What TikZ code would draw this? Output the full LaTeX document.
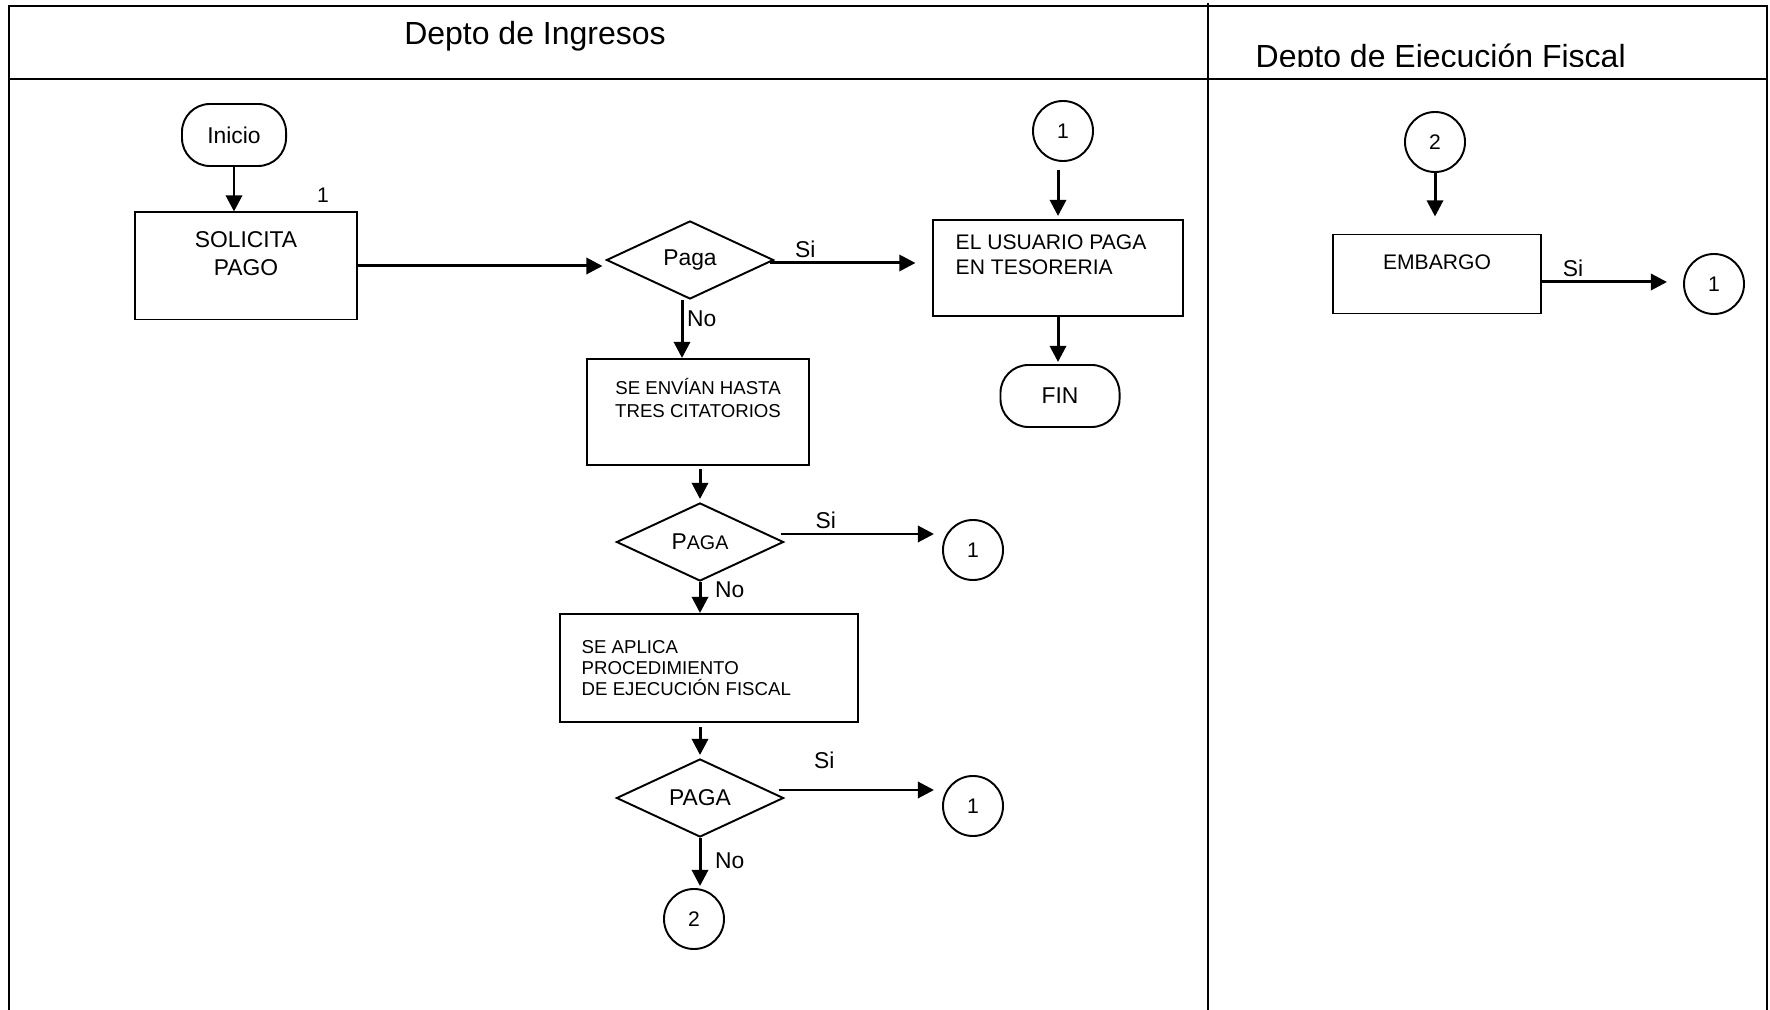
\documentclass[tikz,border=0pt]{standalone}
\usepackage{fontspec}
\setmainfont{Liberation Sans}
\usetikzlibrary{shapes.geometric,arrows.meta,calc}

\begin{document}
\begin{tikzpicture}[x=0.01cm,y=-0.01cm,
    lane/.style={line width=0.6pt},
    proc/.style={draw,line width=0.55pt,inner sep=0pt},
    txt/.style={inner sep=0pt},
    term/.style={draw,line width=0.55pt,rounded corners=0.28cm,minimum height=0.62cm,font=\fontsize{6.5}{7.5}\selectfont},
    decision/.style={draw,diamond,aspect=2,inner sep=0pt,line width=0.55pt,minimum width=1.67cm,minimum height=0.78cm,font=\fontsize{6.5}{7.5}\selectfont},
    conn/.style={draw,circle,line width=0.55pt,minimum size=0.6cm,inner sep=0pt,font=\fontsize{6}{7}\selectfont},
    flow/.style={-{Triangle[length=4.6pt,width=4.6pt]},line width=0.85pt},
    tag/.style={font=\fontsize{6.5}{7.5}\selectfont,inner sep=1pt}]
   \useasboundingbox (0,0) rectangle (1770,1010);

   % carriles
   \draw[lane] (9,1010) -- (9,6) -- (1767,6) -- (1767,1010);
   \draw[lane] (9,79) -- (1767,79);
   \draw[lane] (1208,3) -- (1208,1010);
   \node[font=\fontsize{9.1}{11}\selectfont,anchor=base] (ingresos) at (535,45) {Depto de Ingresos};
   \begin{scope}
     \clip (1210,8) rectangle (1765,66.5);
     \node[txt,font=\fontsize{9.1}{11}\selectfont,anchor=base west] (ejecucion) at (1255,68) {Depto de Ejecución Fiscal};
   \end{scope}

   % Depto de Ingresos
   \node[term,minimum width=1.04cm] (inicio) at (234,135) {Inicio};
   \node[proc,minimum width=2.22cm,minimum height=1.07cm] (solicita) at (246,266) {};
   \node[txt,font=\fontsize{6.5}{8}\selectfont,align=center] (solicitatxt) at (246,254) {SOLICITA\\PAGO};
   \node[font=\fontsize{6}{7}\selectfont] (paso) at (323,195) {1};

   \node[decision] (paga) at (690,260) {Paga};
   \node[proc,minimum width=2.21cm,minimum height=1.06cm] (envian) at (698,412) {};
   \node[txt,font=\fontsize{5.3}{6.3}\selectfont,align=center] (enviantxt) at (698,398) {SE ENVÍAN HASTA\\TRES CITATORIOS};
   \node[decision] (paga2) at (700,542) {P{\fontsize{5.6}{6}\selectfont AGA}};
   \node[conn] (uno2) at (973,550) {1};
   \node[proc,minimum width=2.97cm,minimum height=1.08cm] (aplica) at (709,668) {};
   \node[txt,font=\fontsize{5.3}{6}\selectfont,align=left,anchor=west] (aplicatxt) at (581,668) {SE APLICA\\PROCEDIMIENTO\\DE EJECUCIÓN FISCAL};
   \node[decision] (paga3) at (700,798) {PAGA};
   \node[conn] (uno3) at (973,806) {1};
   \node[conn] (dos1) at (694,919) {2};

   \node[conn] (uno1) at (1063,131) {1};
   \node[proc,minimum width=2.49cm,minimum height=0.96cm] (usuario) at (1058,268) {};
   \node[txt,font=\fontsize{6}{7.1}\selectfont,align=left,anchor=west] (usuariotxt) at (955,255) {EL USUARIO PAGA\\EN TESORERIA};
   \node[term,minimum width=1.19cm] (fin) at (1060,396) {FIN};

   % Depto de Ejecucion Fiscal
   \node[conn] (dos2) at (1435,142) {2};
   \node[proc,minimum width=2.08cm,minimum height=0.79cm] (embargo) at (1437,274) {};
   \node[txt,font=\fontsize{6}{7}\selectfont] (embargotxt) at (1437,262) {EMBARGO};
   \node[conn] (uno4) at (1714,284) {1};

   % flechas
   \draw[flow] (inicio.south) -- (inicio.south |- solicita.north);
   \draw[flow,shorten >=0.03cm] (solicita.east) -- (solicita.east -| paga.west);
   \coordinate (s1) at ($(paga.east)+(-5,3)$);
   \draw[flow,shorten >=0.17cm] (s1) -- (s1 -| usuario.west) node[tag,pos=0.22,anchor=south] {Si};
   \coordinate (n1) at ($(paga.south)+(-8,0)$);
   \draw[flow] (n1) -- (n1 |- envian.north) node[tag,pos=0.32,anchor=west] {No};
   \draw[flow,shorten <=0.03cm,shorten >=0.03cm] (envian.south -| paga2.north) -- (paga2.north);
   \coordinate (s2) at ($(paga2.east)+(-4,-8)$);
   \draw[flow,shorten >=0.08cm] (s2) -- (s2 -| uno2.west) node[tag,pos=0.28,anchor=south] {Si};
   \draw[flow] (paga2.south) -- (paga2.south |- aplica.north) node[tag,pos=0.25,anchor=west,xshift=0.1cm] {No};
   \draw[flow,shorten <=0.04cm,shorten >=0.03cm] (aplica.south -| paga3.north) -- (paga3.north);
   \coordinate (s3) at ($(paga3.east)+(-6,-8)$);
   \draw[flow,shorten >=0.08cm] (s3) -- (s3 -| uno3.west) node[tag,pos=0.28,anchor=south,yshift=0.16cm] {Si};
   \draw[flow,shorten >=0.02cm] (paga3.south) -- (paga3.south |- dos1.north) node[tag,pos=0.45,anchor=west,xshift=0.1cm] {No};
   \draw[flow,shorten <=0.08cm,shorten >=0.03cm] (usuario.north |- uno1.south) -- (usuario.north);
   \draw[flow,shorten >=0.02cm] (usuario.south) -- (usuario.south |- fin.north);
   \draw[flow,shorten >=0.17cm] (dos2.south) -- (dos2.south |- embargo.north);
   \coordinate (s4) at ($(embargo.east)+(0,8)$);
   \draw[flow,shorten >=0.16cm] (s4) -- (s4 -| uno4.west) node[tag,pos=0.22,anchor=south] {Si};
\end{tikzpicture}
\end{document}
